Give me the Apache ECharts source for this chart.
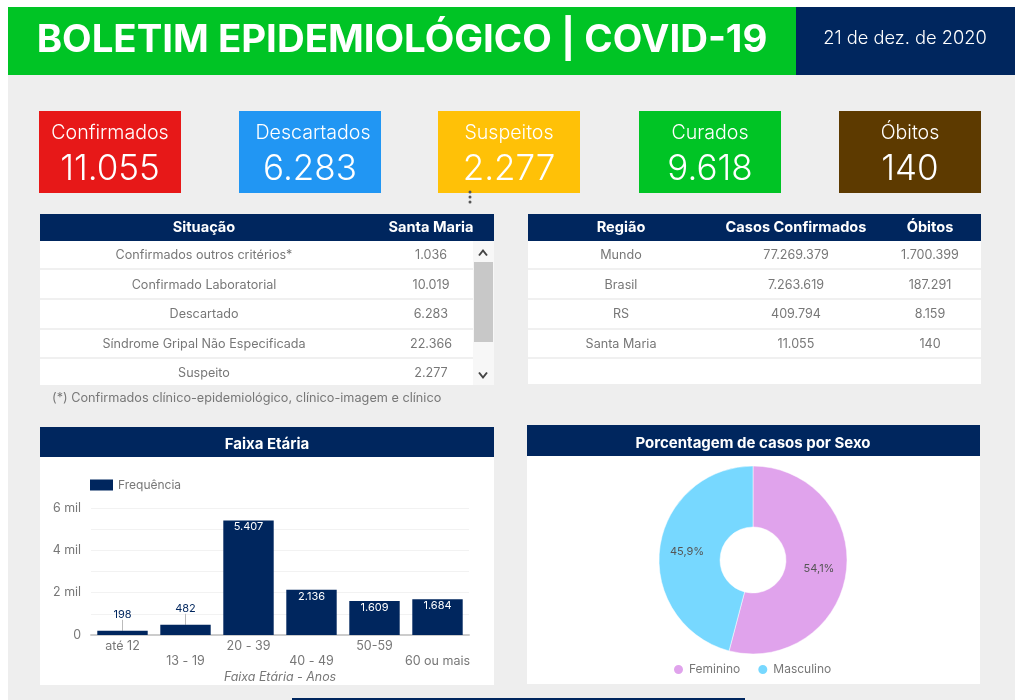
<!DOCTYPE html>
<html>
<head>
<meta charset="utf-8">
<title>Boletim Epidemiológico</title>
<style>
  html, body { margin: 0; padding: 0; background: #fff; }
  #main { width: 1024px; height: 700px; }
</style>
<script src="https://cdn.jsdelivr.net/npm/echarts@6/dist/echarts.min.js"></script>
</head>
<body>
<div id="main"></div>
<script>
const title = 'BOLETIM EPIDEMIOLÓGICO | COVID-19';
const dateText = '21 de dez. de 2020';

const kpiNames = ['Confirmados', 'Descartados', 'Suspeitos', 'Curados', 'Óbitos'];
const kpiValues = ['11.055', '6.283', '2.277', '9.618', '140'];
const kpiColors = ['#e71818', '#2196f3', '#ffc107', '#00c425', '#5d3a00'];

const situacaoHeader = ['Situação', 'Santa Maria'];
const situacaoNames = ['Confirmados outros critérios*', 'Confirmado Laboratorial', 'Descartado', 'Síndrome Gripal Não Especificada', 'Suspeito'];
const situacaoValues = ['1.036', '10.019', '6.283', '22.366', '2.277'];
const footnote = '(*) Confirmados clínico-epidemiológico, clínico-imagem e clínico';

const regiaoHeader = ['Região', 'Casos Confirmados', 'Óbitos'];
const regiaoNames = ['Mundo', 'Brasil', 'RS', 'Santa Maria'];
const regiaoCasos = ['77.269.379', '7.263.619', '409.794', '11.055'];
const regiaoObitos = ['1.700.399', '187.291', '8.159', '140'];

const faixas = ['até 12', '13 - 19', '20 - 39', '40 - 49', '50-59', '60 ou mais'];
const frequencia = [198, 482, 5407, 2136, 1609, 1684];
const yTickLabels = ['0', '', '2 mil', '', '4 mil', '', '6 mil'];

const sexos = ['Feminino', 'Masculino'];
const sexoPct = [54.1, 45.9];

const NAVY = '#00265e';
const FONT = 'Inter';
const rowY = [255, 285, 314, 344, 373];
const rowLines = [268, 298, 328, 357];

function rect(x, y, w, h, fill) {
  return { type: 'rect', silent: true, shape: { x, y, width: w, height: h }, style: { fill } };
}

function text(x, y, str, size, fill, weight, align) {
  return {
    type: 'text', silent: true, x, y,
    style: {
      text: str, fill, fontSize: size, fontWeight: weight || 400, fontFamily: FONT,
      align: align || 'center', verticalAlign: 'middle'
    }
  };
}

function chevron(x, y, dy) {
  return {
    type: 'polyline', silent: true,
    shape: { points: [[x - 4, y + dy], [x, y - dy], [x + 4, y + dy]] },
    style: { stroke: '#444', lineWidth: 2, fill: null }
  };
}

function buildGraphic() {
  const g = [];
  g.push(rect(8, 7, 1007, 693, '#eeeeee'));
  g.push(rect(8, 7, 788, 68, '#00c425'));
  g.push(rect(796, 7, 219, 68, NAVY));
  g.push(text(402, 40, title, 38.4, '#fff', 700));
  g.push(text(905, 39, dateText, 18.3, '#fff', 300));

  const kpiX = [39, 239, 438, 639, 839];
  const kpiNameDx = [0, 3, 0, 0, 0];
  kpiNames.forEach((name, i) => {
    g.push(rect(kpiX[i], 111, 142, 82, kpiColors[i]));
    g.push(text(kpiX[i] + 71 + kpiNameDx[i], 133, name, 19.6, '#fff', 300));
    g.push(text(kpiX[i] + 71, 169, kpiValues[i], 35, '#fff', 300));
  });
  [192, 197, 202].forEach(y => {
    g.push({ type: 'circle', silent: true, shape: { cx: 470, cy: y, r: 1.5 }, style: { fill: '#555' } });
  });

  // tabela situação
  g.push(rect(40, 241, 433, 144, '#fff'));
  g.push(rect(473, 241, 21, 144, '#f7f7f7'));
  g.push(rect(474, 262, 19, 80, '#c8c8c8'));
  g.push(chevron(483, 253, 2.5));
  g.push(chevron(483, 375, -2.5));
  g.push(rect(40, 214, 454, 27, NAVY));
  g.push(text(204, 228, situacaoHeader[0], 14.6, '#fff', 700));
  g.push(text(431, 228, situacaoHeader[1], 14.6, '#fff', 700));
  rowLines.forEach(y => g.push(rect(40, y, 433, 2, '#f0f0f0')));
  situacaoNames.forEach((name, i) => {
    g.push(text(204, rowY[i], name, 12.6, '#777'));
    g.push(text(431, rowY[i], situacaoValues[i], 12.6, '#777'));
  });
  g.push(text(52, 398, footnote, 12.7, '#777', 400, 'left'));

  // tabela região
  g.push(rect(528, 241, 453, 143, '#fff'));
  g.push(rect(528, 214, 453, 27, NAVY));
  [621, 796, 930].forEach((x, i) => g.push(text(x, 228, regiaoHeader[i], 14.6, '#fff', 700)));
  rowLines.forEach(y => g.push(rect(528, y, 453, 2, '#f0f0f0')));
  regiaoNames.forEach((name, i) => {
    g.push(text(621, rowY[i], name, 12.6, '#777'));
    g.push(text(796, rowY[i], regiaoCasos[i], 12.6, '#777'));
    g.push(text(930, rowY[i], regiaoObitos[i], 12.6, '#777'));
  });

  // painéis dos gráficos
  g.push(rect(40, 457, 454, 228, '#fff'));
  g.push(rect(40, 427, 454, 30, NAVY));
  g.push(text(267, 444, 'Faixa Etária', 15, '#fff', 700));
  g.push(rect(527, 456, 453, 228, '#fff'));
  g.push(rect(527, 425, 453, 31, NAVY));
  g.push(text(753, 443, 'Porcentagem de casos por Sexo', 15, '#fff', 700));
  g.push(rect(292, 698, 453, 2, NAVY));
  return g;
}

const fmtMil = v => String(v).replace(/\B(?=(\d{3})+$)/g, '.');

const chart = echarts.init(document.getElementById('main'), null, { renderer: 'canvas' });
chart.setOption({
  animation: false,
  backgroundColor: '#fff',
  textStyle: { fontFamily: FONT },
  graphic: { elements: buildGraphic() },
  grid: { left: 91, top: 508, width: 378, height: 127, containLabel: false },
  legend: [
    {
      data: ['Frequência'], left: 85, top: 474, itemWidth: 23, itemHeight: 11, icon: 'rect',
      textStyle: { color: '#777', fontSize: 12, fontFamily: FONT }
    },
    {
      data: sexos, left: 667, top: 658, itemWidth: 11, itemHeight: 11, icon: 'circle', itemGap: 16,
      textStyle: { color: '#777', fontSize: 12, fontFamily: FONT }
    }
  ],
  xAxis: {
    type: 'category',
    data: faixas,
    name: 'Faixa Etária - Anos',
    nameLocation: 'middle',
    nameGap: 36,
    nameTextStyle: { color: '#777', fontStyle: 'italic', fontSize: 12.4, fontFamily: FONT },
    axisTick: { show: false },
    axisLine: { lineStyle: { color: '#ccc', width: 2 } },
    axisLabel: {
      interval: 0, color: '#777', fontSize: 12.5, margin: 4, lineHeight: 15,
      hideOverlap: false,
      formatter: (v, i) => (i % 2 ? '\n' + v : v + '\n')
    }
  },
  yAxis: {
    type: 'value', min: 0, max: 6000, interval: 1000,
    axisLine: { show: false },
    axisTick: { show: false },
    splitLine: { lineStyle: { color: '#f2f2f2', width: 1 } },
    axisLabel: {
      color: '#777', fontSize: 12.4, margin: 10,
      formatter: (v, i) => yTickLabels[i]
    }
  },
  series: [
    {
      type: 'bar',
      name: 'Frequência',
      data: frequencia.map(v => ({
        value: v,
        label: v < 1000
          ? { position: 'top', color: NAVY, distance: 0 }
          : { position: 'insideTop', color: '#fff', distance: 1 },
        labelLine: { show: v < 1000 }
      })),
      barCategoryGap: '20%',
      itemStyle: { color: NAVY },
      label: { show: true, fontSize: 11, formatter: p => fmtMil(p.value) },
      labelLayout: p => (p.dataIndex < 2 ? { dy: -11 } : {}),
      labelLine: { lineStyle: { color: '#bbb', width: 1 } }
    },
    {
      type: 'pie',
      center: [753, 560],
      radius: [33, 94],
      startAngle: 90,
      data: sexos.map((name, i) => ({ name, value: sexoPct[i] })),
      color: ['#e0a3ec', '#77d8ff'],
      itemStyle: { borderColor: '#fff', borderWidth: 0.5 },
      label: {
        show: true, position: 'inside', color: '#555', fontSize: 11,
        formatter: p => String(p.value).replace('.', ',') + '%'
      },
      emphasis: { disabled: true }
    }
  ]
});
</script>
</body>
</html>
